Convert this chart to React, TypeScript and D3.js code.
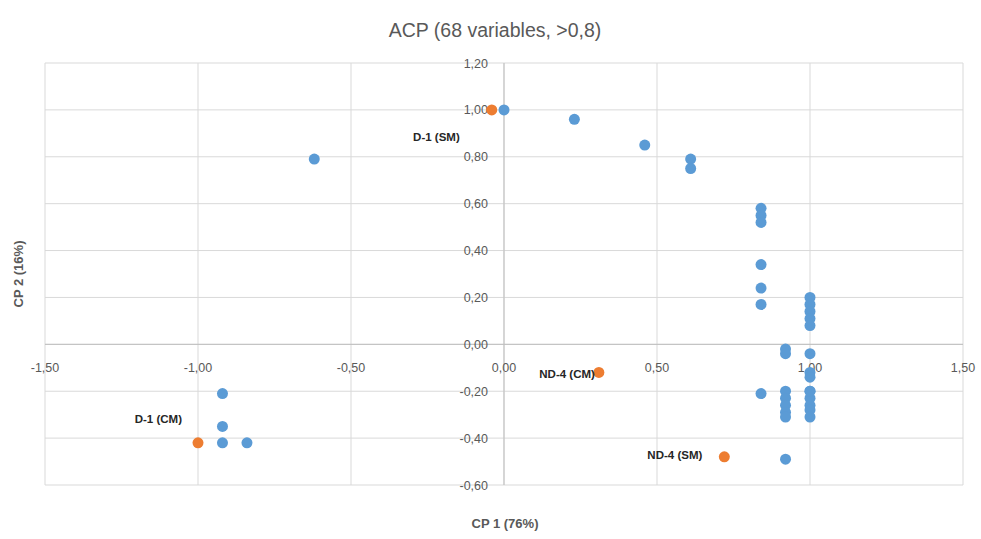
import React, { useEffect, useRef } from "react";
import * as d3 from "d3";

// CP 1 / CP 2 coordinates
const blueX = [
  -0.62, 0.0, 0.23, 0.46, 0.61, 0.61,
  0.84, 0.84, 0.84, 0.84, 0.84, 0.84, 0.84,
  0.92, 0.92, 0.92, 0.92, 0.92, 0.92, 0.92, 0.92,
  1.0, 1.0, 1.0, 1.0, 1.0, 1.0, 1.0, 1.0, 1.0, 1.0, 1.0, 1.0, 1.0, 1.0,
  -0.92, -0.92, -0.92, -0.84,
];
const blueY = [
  0.79, 1.0, 0.96, 0.85, 0.79, 0.75,
  0.58, 0.55, 0.52, 0.34, 0.24, 0.17, -0.21,
  -0.02, -0.04, -0.2, -0.23, -0.26, -0.29, -0.31, -0.49,
  0.2, 0.17, 0.14, 0.11, 0.08, -0.04, -0.12, -0.14, -0.2, -0.23, -0.26, -0.28, -0.31, -0.2,
  -0.21, -0.35, -0.42, -0.42,
];
const orangeX = [-0.04, -1.0, 0.31, 0.72];
const orangeY = [1.0, -0.42, -0.12, -0.48];
const orangeLabels = ["D-1 (SM)", "D-1 (CM)", "ND-4 (CM)", "ND-4 (SM)"];
const xTicks = [-1.5, -1.0, -0.5, 0, 0.5, 1.0, 1.5];
const yTicks = [1.2, 1.0, 0.8, 0.6, 0.4, 0.2, 0, -0.2, -0.4, -0.6];

const fmt = (v: number) => v.toFixed(2).replace(".", ",");

const App = () => {
  const svgRef = useRef<SVGSVGElement>(null);

  useEffect(() => {
    document.body.style.margin = "0";
    const width = 981;
    const height = 539;
    const svg = d3.select(svgRef.current).attr("width", width).attr("height", height);
    svg.selectAll("*").remove();

    const x = d3.scaleLinear().domain([-1.5, 1.5]).range([45, 963]);
    const y = d3.scaleLinear().domain([-0.6, 1.2]).range([485, 63]);
    const font = "'Liberation Sans', Arial, sans-serif";

    svg.append("rect").attr("width", width).attr("height", height).attr("fill", "#fff");

    // grid
    svg.append("g").selectAll("line").data(xTicks).enter().append("line")
      .attr("x1", (d) => x(d)).attr("x2", (d) => x(d))
      .attr("y1", y(1.2)).attr("y2", y(-0.6))
      .attr("stroke", "#d9d9d9").attr("stroke-width", 1);
    svg.append("g").selectAll("line").data(yTicks).enter().append("line")
      .attr("x1", x(-1.5)).attr("x2", x(1.5))
      .attr("y1", (d) => y(d)).attr("y2", (d) => y(d))
      .attr("stroke", "#d9d9d9").attr("stroke-width", 1);

    // axes through zero
    svg.append("line").attr("x1", x(-1.5)).attr("x2", x(1.5))
      .attr("y1", y(0)).attr("y2", y(0)).attr("stroke", "#bfbfbf");
    svg.append("line").attr("x1", x(0)).attr("x2", x(0))
      .attr("y1", y(1.2)).attr("y2", y(-0.6)).attr("stroke", "#bfbfbf");

    // tick labels
    svg.append("g").selectAll("text").data(xTicks).enter().append("text")
      .attr("x", (d) => x(d)).attr("y", y(0) + 28)
      .attr("text-anchor", "middle").attr("font-family", font).attr("font-size", 12.5)
      .attr("fill", "#595959").text((d) => fmt(d));
    svg.append("g").selectAll("text").data(yTicks).enter().append("text")
      .attr("x", x(0) - 16).attr("y", (d) => y(d) + 4.5)
      .attr("text-anchor", "end").attr("font-family", font).attr("font-size", 12.5)
      .attr("fill", "#595959").text((d) => fmt(d));

    // points
    svg.append("g").selectAll("circle").data(blueX).enter().append("circle")
      .attr("cx", (d) => x(d)).attr("cy", (d, i) => y(blueY[i]))
      .attr("r", 5.5).attr("fill", "#5b9bd5");
    svg.append("g").selectAll("circle").data(orangeX).enter().append("circle")
      .attr("cx", (d) => x(d)).attr("cy", (d, i) => y(orangeY[i]))
      .attr("r", 5.5).attr("fill", "#ed7d31");

    // labels of orange points
    const labelDx = [-32, -16, -4, -22];
    const labelDy = [31, -20, 6, 2];
    svg.append("g").selectAll("text").data(orangeLabels).enter().append("text")
      .attr("x", (d, i) => x(orangeX[i]) + labelDx[i])
      .attr("y", (d, i) => y(orangeY[i]) + labelDy[i])
      .attr("text-anchor", "end").attr("font-family", font).attr("font-size", 11.5)
      .attr("font-weight", "bold").attr("fill", "#262626").text((d) => d);

    // titles
    svg.append("text").attr("x", 495).attr("y", 37).attr("text-anchor", "middle")
      .attr("font-family", font).attr("font-size", 19.5).attr("fill", "#595959")
      .text("ACP (68 variables, >0,8)");
    svg.append("text").attr("x", 505).attr("y", 528).attr("text-anchor", "middle")
      .attr("font-family", font).attr("font-size", 13).attr("font-weight", "bold")
      .attr("fill", "#595959").text("CP 1 (76%)");
    svg.append("text").attr("transform", "translate(23,274) rotate(-90)")
      .attr("text-anchor", "middle").attr("font-family", font).attr("font-size", 13)
      .attr("font-weight", "bold").attr("fill", "#595959").text("CP 2 (16%)");
  }, []);

  return <svg ref={svgRef}></svg>;
};

export default App;
